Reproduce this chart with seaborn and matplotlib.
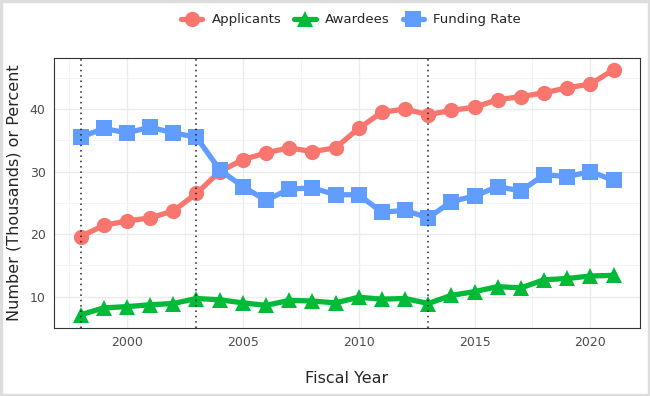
import pandas as pd
import seaborn as sns
import matplotlib.pyplot as plt
from matplotlib.lines import Line2D
from matplotlib.patches import Rectangle

# values
years = list(range(1998, 2022))
applicants = [19.6, 21.4, 22.1, 22.6, 23.7, 26.5, 30.0, 31.9, 33.0, 33.8, 33.2, 33.8,
              36.9, 39.5, 40.0, 39.1, 39.8, 40.3, 41.5, 42.0, 42.6, 43.4, 44.0, 46.3]
awardees = [7.1, 8.2, 8.4, 8.7, 8.9, 9.7, 9.5, 9.0, 8.6, 9.4, 9.3, 9.0,
            9.9, 9.6, 9.7, 8.9, 10.2, 10.8, 11.6, 11.4, 12.7, 12.9, 13.3, 13.4]
funding_rate = [35.5, 36.9, 36.2, 37.1, 36.2, 35.5, 30.3, 27.6, 25.4, 27.2, 27.4, 26.3,
                26.3, 23.5, 23.8, 22.6, 25.2, 26.1, 27.6, 26.9, 29.5, 29.2, 30.0, 28.6]
series_names = ['Applicants', 'Awardees', 'Funding Rate']
vlines = [1998, 2003, 2013]

colors = {'Applicants': '#F8766D', 'Awardees': '#00BA38', 'Funding Rate': '#619CFF'}
markers = {'Applicants': 'o', 'Awardees': '^', 'Funding Rate': 's'}

df = pd.DataFrame({'year': years, 'Applicants': applicants,
                   'Awardees': awardees, 'Funding Rate': funding_rate})
long_df = df.melt(id_vars='year', var_name='series', value_name='value')

sns.set_style('white')
plt.rcParams['font.family'] = ['DejaVu Sans']

fig = plt.figure(figsize=(6.5, 3.96), dpi=100)
ax = fig.add_axes([0.083, 0.172, 0.902, 0.682])

# light outer frame like the reference
fig.patches.append(Rectangle((0.002, 0.003), 0.996, 0.994, transform=fig.transFigure,
                             fill=False, edgecolor='#DDDDDD', linewidth=2.5))

sns.lineplot(data=long_df, x='year', y='value', hue='series', style='series',
             hue_order=series_names, style_order=series_names,
             palette=colors, markers=markers, dashes=False,
             linewidth=3.8, markersize=11, markeredgewidth=0, legend=False, ax=ax)

for v in vlines:
    ax.axvline(v, color='#222222', linestyle=(0, (1, 2.5)), linewidth=1.1, zorder=5)

ax.set_xlim(1996.85, 2022.15)
ax.set_ylim(5.04, 48.2)
ax.set_xticks([2000, 2005, 2010, 2015, 2020])
ax.set_yticks([10, 20, 30, 40])
ax.set_xticks([1997.5, 2002.5, 2007.5, 2012.5, 2017.5], minor=True)
ax.set_yticks([5, 15, 25, 35, 45], minor=True)
ax.grid(which='major', color='#EBEBEB', linewidth=1.0)
ax.grid(which='minor', color='#F2F2F2', linewidth=0.6)
ax.set_axisbelow(True)
ax.tick_params(which='major', length=3, width=0.8, color='#333333',
               labelsize=9, labelcolor='#4D4D4D', pad=3)
ax.tick_params(which='minor', length=0)
for s in ax.spines.values():
    s.set_color('#333333')
    s.set_linewidth(0.8)

ax.set_xlabel('Fiscal Year', fontsize=11.5, labelpad=16)
ax.set_ylabel('Number (Thousands) or Percent', fontsize=11.5, labelpad=6)

handles = [Line2D([], [], color=colors[n], marker=markers[n], linewidth=3.8,
                  markersize=11, markeredgewidth=0) for n in series_names]
fig.legend(handles, series_names, loc='center', bbox_to_anchor=(0.54, 0.95), ncol=3,
           frameon=False, fontsize=9.5, handlelength=1.6, handletextpad=0.7,
           columnspacing=1.0)

plt.savefig('out.png', dpi=100)
